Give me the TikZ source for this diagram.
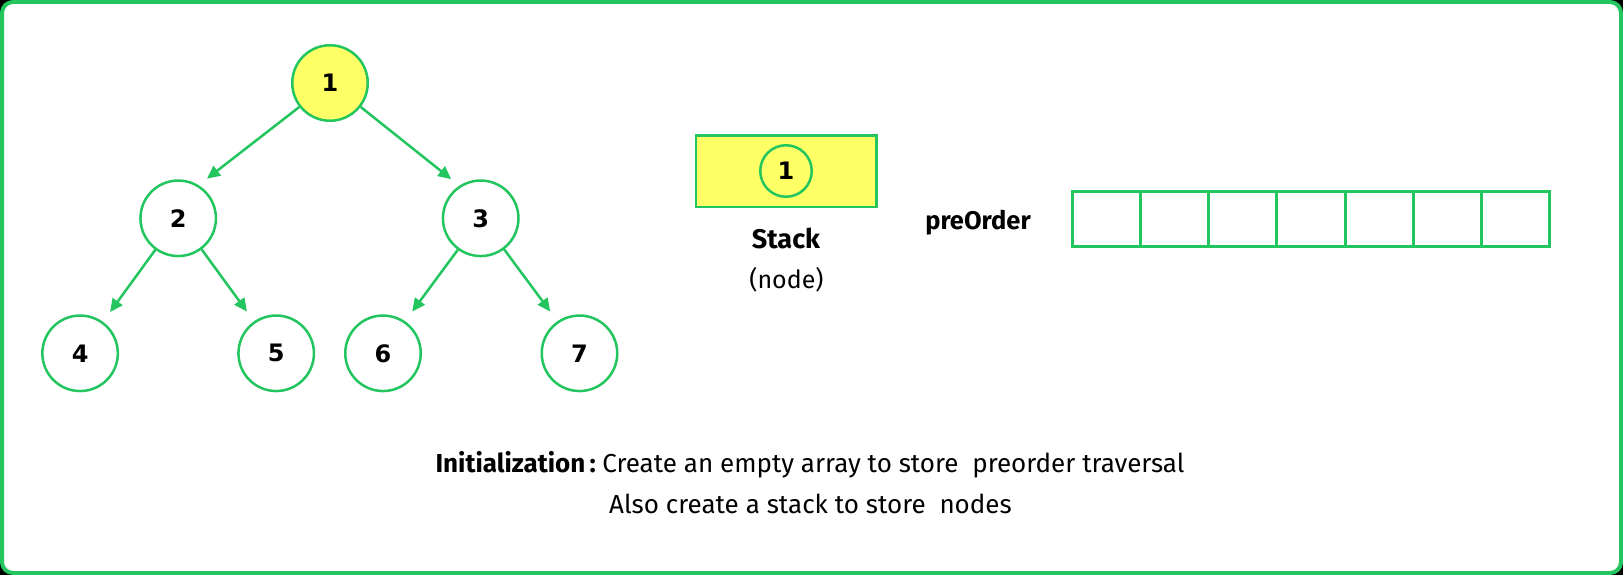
\documentclass[tikz,border=0pt]{standalone}
\usepackage{fontspec}
\setmainfont{Fira Sans}
\newfontfamily\digitfont{DejaVu Sans}
\usetikzlibrary{arrows.meta,calc}
\definecolor{gfgreen}{RGB}{34,197,94}
\definecolor{hlyellow}{RGB}{255,255,102}
\tikzset{
  treenode/.style={circle,draw=gfgreen,line width=2.5pt,minimum size=75.5pt,inner sep=0pt,fill=white,
    font=\digitfont\bfseries\fontsize{24}{24}\selectfont},
  arr/.style={draw=gfgreen,line width=2.5pt,-{Triangle[length=13pt,width=12pt]}},
  cell/.style={rectangle,draw=gfgreen,line width=3pt,minimum width=68.14pt,minimum height=55pt,inner sep=0pt},
  lbl/.style={inner sep=0pt,anchor=base},
}
\begin{document}
\begin{tikzpicture}[x=1pt,y=-1pt]
\fill[black] (0,0) rectangle (1623,575);
\draw[gfgreen,line width=4pt,fill=white,rounded corners=11pt] (2,2) rectangle (1621,573);

% tree
\node[treenode,fill=hlyellow] (n1) at (330,83) {1};
\node[treenode] (n2) at (178.2,218.3) {2};
\node[treenode] (n3) at (480.7,218.3) {3};
\node[treenode] (n4) at (80.1,353.3) {4};
\node[treenode] (n5) at (276.2,353.3) {5};
\node[treenode] (n6) at (383,353.3) {6};
\node[treenode] (n7) at (579.5,353.3) {7};

\draw[arr] (n1.218) -- ($(n2.center)!49pt!(n2.54)$);
\draw[arr] (n1.322) -- ($(n3.center)!49pt!(n3.127)$);
\draw[arr] (n2.234) -- ($(n4.center)!51pt!(n4.54)$);
\draw[arr] (n2.307) -- ($(n5.center)!51pt!(n5.125)$);
\draw[arr] (n3.234) -- ($(n6.center)!51pt!(n6.55)$);
\draw[arr] (n3.307) -- ($(n7.center)!51pt!(n7.125)$);

% stack
\node[rectangle,draw=gfgreen,fill=hlyellow,line width=2.5pt,minimum width=180.2pt,minimum height=71.5pt,inner sep=0pt] (stack) at (786.3,171.3) {};
\node[treenode,fill=hlyellow,minimum size=51.5pt] (s1) at (786,171) {1};
\node[lbl,font=\bfseries\fontsize{27}{27}\selectfont] (stacklbl) at (786,248.3) {Stack};
\node[lbl,font=\fontsize{25}{25}\selectfont] (nodelbl) at (786.5,288.3) {(node)};

% preorder array
\node[lbl,font=\bfseries\fontsize{25.5}{25.5}\selectfont] (prelbl) at (978,229.5) {preOrder};
\foreach \i in {0,...,6}{
  \node[cell] (c\i) at ({1072.5+68.14*(\i+0.5)},219) {};
}

% caption
\node[lbl,font=\fontsize{26}{26}\selectfont] (cap1) at (810,472.3) {\textbf{Initialization\,:}\hspace{0.25em}Create an empty array to store\ \ preorder traversal};
\node[lbl,font=\fontsize{26}{26}\selectfont] (cap2) at (810.5,513.3) {Also create a stack to store\ \ nodes};
\end{tikzpicture}
\end{document}
